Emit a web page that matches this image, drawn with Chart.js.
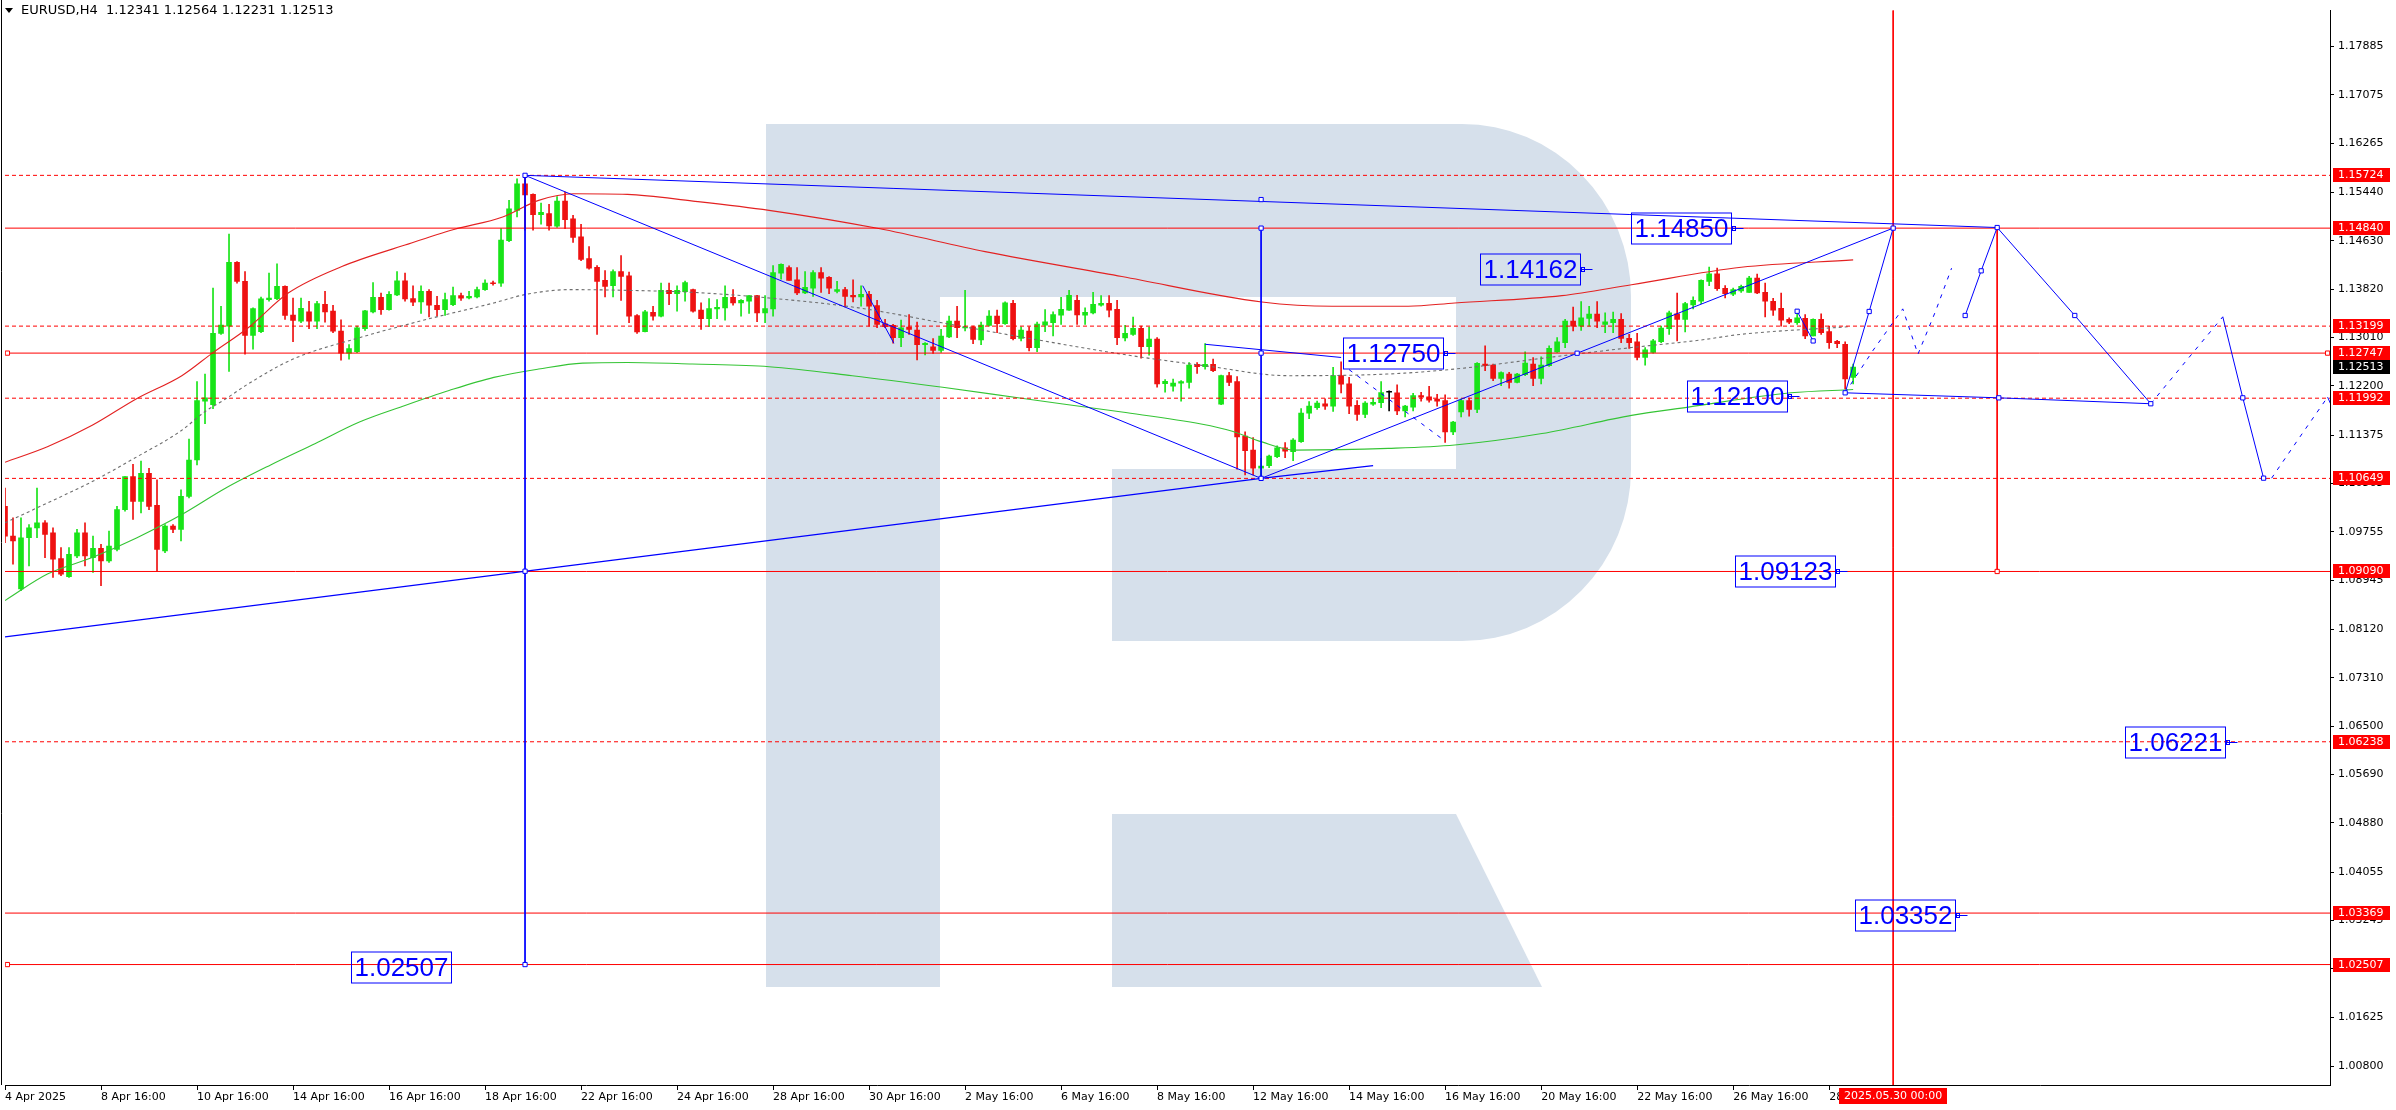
<!DOCTYPE html>
<html>
<head>
<meta charset="utf-8">
<script src="https://cdn.jsdelivr.net/npm/chart.js@4.4.1/dist/chart.umd.min.js"></script>
<style>
  html, body { margin: 0; padding: 0; background: #fff; }
  #wrap { width: 2396px; height: 1110px; }
</style>
</head>
<body>
<div id="wrap"><canvas id="chart" width="2396" height="1110"></canvas></div>
<script>
// EURUSD H4, 4 Apr 2025 16:00 .. 29 May 2025 04:00, one bar per index
const opens = [
  1.10181, 1.09683, 1.08797, 1.09655, 1.09821, 1.09904, 1.09738, 1.09306, 1.09002, 1.09351,
  1.09738, 1.09323, 1.09478, 1.09268, 1.09461, 1.10126, 1.10680, 1.10264, 1.10735, 1.10198,
  1.09434, 1.09849, 1.09794, 1.10348, 1.10957, 1.11942, 1.11882, 1.13078, 1.13199, 1.14268,
  1.13947, 1.13044, 1.13105, 1.13643, 1.13659, 1.13864, 1.13382, 1.13283, 1.13438, 1.13283,
  1.13565, 1.13449, 1.13116, 1.12745, 1.12773, 1.13155, 1.13438, 1.13681, 1.13476, 1.13720,
  1.13958, 1.13659, 1.13604, 1.13781, 1.13548, 1.13476, 1.13560, 1.13709, 1.13670, 1.13687,
  1.13809, 1.13919, 1.13919, 1.14628, 1.15138, 1.15581, 1.15404, 1.15066, 1.15082, 1.14872,
  1.15293, 1.14994, 1.14695, 1.14329, 1.14185, 1.13964, 1.13875, 1.14113, 1.14041, 1.13377,
  1.13105, 1.13432, 1.13366, 1.13798, 1.13742, 1.13776, 1.13809, 1.13466, 1.13322, 1.13488,
  1.13504, 1.13682, 1.13587, 1.13615, 1.13709, 1.13421, 1.13488, 1.14086, 1.14180, 1.13975,
  1.13753, 1.13836, 1.14097, 1.14014, 1.13781, 1.13809, 1.13715, 1.13687, 1.13731, 1.13543,
  1.13238, 1.13211, 1.13006, 1.13183, 1.13133, 1.12890, 1.12851, 1.12790, 1.13017, 1.13283,
  1.13167, 1.13189, 1.12967, 1.13211, 1.13366, 1.13238, 1.13582, 1.12995, 1.13117, 1.12840,
  1.13216, 1.13255, 1.13383, 1.13466, 1.13632, 1.13383, 1.13421, 1.13549, 1.13582, 1.13482,
  1.13000, 1.13061, 1.13161, 1.12856, 1.12984, 1.12236, 1.12192, 1.12242, 1.12258, 1.12557,
  1.12519, 1.12557, 1.11893, 1.12369, 1.12269, 1.11356, 1.11123, 1.10818, 1.10863, 1.11012,
  1.11162, 1.11095, 1.11262, 1.11743, 1.11832, 1.11898, 1.11860, 1.12369, 1.12231, 1.11871,
  1.11721, 1.11893, 1.11915, 1.12092, 1.12081, 1.11777, 1.11843, 1.12036, 1.12014, 1.11976,
  1.11954, 1.11428, 1.11760, 1.11954, 1.11804, 1.12563, 1.12546, 1.12325, 1.12397, 1.12258,
  1.12386, 1.12563, 1.12325, 1.12535, 1.12768, 1.12923, 1.13283, 1.13200, 1.13328, 1.13400,
  1.13228, 1.13256, 1.13311, 1.12995, 1.12934, 1.12674, 1.12757, 1.12940, 1.13156, 1.13405,
  1.13311, 1.13555, 1.13616, 1.13948, 1.14075, 1.13832, 1.13732, 1.13787, 1.13765, 1.14003,
  1.13765, 1.13615, 1.13499, 1.13311, 1.13255, 1.13328, 1.13034, 1.13311, 1.13106, 1.12945,
  1.12895, 1.12341
];
const highs = [
  1.10486, 1.09987, 1.09987, 1.09877, 1.10486, 1.09943, 1.09821, 1.09489, 1.09489, 1.09794,
  1.09904, 1.09683, 1.09544, 1.09766, 1.10181, 1.10680, 1.10885, 1.10940, 1.10818, 1.10624,
  1.09877, 1.09877, 1.10458, 1.11306, 1.12269, 1.12396, 1.13836, 1.13532, 1.14739, 1.14279,
  1.14113, 1.13504, 1.13687, 1.14086, 1.14241, 1.13875, 1.13670, 1.13670, 1.13615, 1.13615,
  1.13781, 1.13548, 1.13305, 1.12889, 1.13199, 1.13465, 1.13930, 1.13753, 1.13776, 1.14113,
  1.14086, 1.13875, 1.13875, 1.13809, 1.13698, 1.13753, 1.13853, 1.13753, 1.13781, 1.13853,
  1.13975, 1.13953, 1.14833, 1.15304, 1.15664, 1.15724, 1.15415, 1.15260, 1.15237, 1.15370,
  1.15442, 1.15055, 1.14905, 1.14529, 1.14213, 1.14130, 1.14141, 1.14379, 1.14102, 1.13393,
  1.13465, 1.13532, 1.13919, 1.13919, 1.13875, 1.13953, 1.13820, 1.13587, 1.13659, 1.13643,
  1.13875, 1.13809, 1.13643, 1.13709, 1.13715, 1.13709, 1.14213, 1.14241, 1.14208, 1.14180,
  1.14113, 1.14130, 1.14180, 1.14030, 1.13947, 1.13848, 1.13975, 1.13875, 1.13781, 1.13632,
  1.13311, 1.13227, 1.13299, 1.13394, 1.13266, 1.12923, 1.12989, 1.13145, 1.13366, 1.13532,
  1.13798, 1.13200, 1.13266, 1.13460, 1.13466, 1.13604, 1.13632, 1.13189, 1.13189, 1.13266,
  1.13477, 1.13438, 1.13682, 1.13798, 1.13715, 1.13504, 1.13764, 1.13709, 1.13709, 1.13632,
  1.13211, 1.13349, 1.13200, 1.13183, 1.13006, 1.12303, 1.12314, 1.12286, 1.12590, 1.12590,
  1.12906, 1.12646, 1.12380, 1.12424, 1.12352, 1.11428, 1.11333, 1.10984, 1.11040, 1.11195,
  1.11250, 1.11317, 1.11816, 1.11937, 1.11943, 1.11981, 1.12508, 1.12602, 1.12341, 1.11954,
  1.11937, 1.11992, 1.12269, 1.12114, 1.12214, 1.11871, 1.12075, 1.12092, 1.12192, 1.12058,
  1.12047, 1.11605, 1.11981, 1.11992, 1.12590, 1.12867, 1.12563, 1.12435, 1.12424, 1.12408,
  1.12768, 1.12673, 1.12685, 1.12867, 1.13006, 1.13311, 1.13516, 1.13610, 1.13532, 1.13610,
  1.13422, 1.13433, 1.13411, 1.13062, 1.13078, 1.12840, 1.12979, 1.13200, 1.13449, 1.13754,
  1.13599, 1.13688, 1.13975, 1.14186, 1.14169, 1.13876, 1.13837, 1.13887, 1.14031, 1.14070,
  1.13920, 1.13665, 1.13754, 1.13339, 1.13477, 1.13394, 1.13322, 1.13405, 1.13200, 1.12962,
  1.12934, 1.12564
];
const lows = [
  1.09572, 1.09212, 1.08769, 1.09185, 1.09655, 1.09323, 1.08991, 1.09019, 1.08991, 1.09323,
  1.09185, 1.09074, 1.08853, 1.09240, 1.09434, 1.10098, 1.09960, 1.10070, 1.10126, 1.09101,
  1.09406, 1.09738, 1.09600, 1.10320, 1.10874, 1.11566, 1.11815, 1.13061, 1.12441, 1.13920,
  1.12729, 1.12812, 1.13089, 1.13615, 1.13643, 1.13310, 1.12939, 1.13255, 1.13155, 1.13155,
  1.13266, 1.13089, 1.12629, 1.12646, 1.12756, 1.13127, 1.13421, 1.13393, 1.13465, 1.13709,
  1.13615, 1.13543, 1.13410, 1.13355, 1.13366, 1.13377, 1.13543, 1.13631, 1.13654, 1.13670,
  1.13798, 1.13886, 1.13864, 1.14612, 1.15027, 1.14806, 1.14806, 1.14905, 1.14806, 1.14850,
  1.14833, 1.14601, 1.14296, 1.14152, 1.13061, 1.13687, 1.13687, 1.13631, 1.13255, 1.13078,
  1.13100, 1.13299, 1.13355, 1.13560, 1.13449, 1.13615, 1.13432, 1.13145, 1.13189, 1.13322,
  1.13299, 1.13549, 1.13366, 1.13410, 1.13272, 1.13255, 1.13366, 1.13986, 1.13964, 1.13726,
  1.13742, 1.13698, 1.13764, 1.13742, 1.13753, 1.13521, 1.13604, 1.13532, 1.13200, 1.13172,
  1.13172, 1.12912, 1.12856, 1.13061, 1.12635, 1.12718, 1.12740, 1.12757, 1.13006, 1.13006,
  1.13117, 1.12906, 1.12890, 1.13200, 1.13089, 1.13227, 1.12967, 1.12951, 1.12784, 1.12773,
  1.13106, 1.13034, 1.13227, 1.13460, 1.13227, 1.13227, 1.13405, 1.13532, 1.13355, 1.12890,
  1.12951, 1.13045, 1.12662, 1.12712, 1.12175, 1.12092, 1.12109, 1.11943, 1.12159, 1.12408,
  1.12480, 1.12435, 1.11882, 1.12203, 1.10802, 1.10708, 1.10708, 1.10652, 1.10829, 1.10995,
  1.10995, 1.10946, 1.11250, 1.11649, 1.11804, 1.11804, 1.11771, 1.12081, 1.11732, 1.11621,
  1.11666, 1.11871, 1.11832, 1.11777, 1.11716, 1.11677, 1.11777, 1.11943, 1.11926, 1.11860,
  1.11250, 1.11383, 1.11677, 1.11693, 1.11749, 1.12452, 1.12286, 1.12203, 1.12159, 1.12247,
  1.12369, 1.12203, 1.12231, 1.12524, 1.12757, 1.12840, 1.13117, 1.13128, 1.13200, 1.13172,
  1.13089, 1.13089, 1.12923, 1.12824, 1.12635, 1.12547, 1.12746, 1.12923, 1.13062, 1.12951,
  1.13101, 1.13488, 1.13577, 1.13876, 1.13798, 1.13671, 1.13710, 1.13765, 1.13765, 1.13743,
  1.13355, 1.13377, 1.13200, 1.13239, 1.13228, 1.12990, 1.13034, 1.13062, 1.12824, 1.12840,
  1.12148, 1.12231
];
const closes = [
  1.09683, 1.09600, 1.09655, 1.09821, 1.09904, 1.09711, 1.09295, 1.09046, 1.09378, 1.09738,
  1.09351, 1.09478, 1.09268, 1.09517, 1.10126, 1.10680, 1.10264, 1.10735, 1.10181, 1.09461,
  1.09849, 1.09794, 1.10348, 1.10957, 1.11954, 1.11998, 1.13078, 1.13216, 1.14268, 1.13947,
  1.13044, 1.13493, 1.13654, 1.13670, 1.13864, 1.13377, 1.13294, 1.13499, 1.13283, 1.13576,
  1.13438, 1.13116, 1.12745, 1.12823, 1.13172, 1.13454, 1.13681, 1.13476, 1.13731, 1.13958,
  1.13654, 1.13598, 1.13781, 1.13548, 1.13476, 1.13643, 1.13709, 1.13665, 1.13698, 1.13809,
  1.13919, 1.13908, 1.14639, 1.15165, 1.15581, 1.15398, 1.15066, 1.15105, 1.14878, 1.15293,
  1.14983, 1.14684, 1.14318, 1.14169, 1.13947, 1.13864, 1.14113, 1.14030, 1.13366, 1.13100,
  1.13438, 1.13366, 1.13798, 1.13742, 1.13798, 1.13930, 1.13449, 1.13322, 1.13493, 1.13515,
  1.13682, 1.13587, 1.13632, 1.13709, 1.13421, 1.13493, 1.14097, 1.14235, 1.13964, 1.13753,
  1.13848, 1.14097, 1.14003, 1.13836, 1.13809, 1.13698, 1.13687, 1.13731, 1.13532, 1.13227,
  1.13189, 1.13006, 1.13172, 1.13145, 1.12890, 1.12912, 1.12790, 1.13034, 1.13283, 1.13172,
  1.13189, 1.12978, 1.13216, 1.13366, 1.13238, 1.13587, 1.12989, 1.13133, 1.12840, 1.13233,
  1.13272, 1.13394, 1.13482, 1.13715, 1.13388, 1.13432, 1.13565, 1.13582, 1.13466, 1.13006,
  1.13078, 1.13161, 1.12856, 1.12984, 1.12231, 1.12275, 1.12247, 1.12269, 1.12546, 1.12519,
  1.12557, 1.12452, 1.12369, 1.12258, 1.11344, 1.11112, 1.10818, 1.10857, 1.11023, 1.11162,
  1.11106, 1.11289, 1.11743, 1.11860, 1.11909, 1.11860, 1.12369, 1.12225, 1.11860, 1.11721,
  1.11909, 1.11921, 1.12086, 1.12092, 1.11777, 1.11860, 1.12036, 1.12009, 1.11959, 1.11943,
  1.11428, 1.11594, 1.11954, 1.11804, 1.12574, 1.12535, 1.12325, 1.12419, 1.12258, 1.12397,
  1.12580, 1.12325, 1.12546, 1.12829, 1.12934, 1.13283, 1.13200, 1.13339, 1.13400, 1.13283,
  1.13272, 1.13311, 1.12995, 1.12923, 1.12674, 1.12801, 1.12951, 1.13167, 1.13422, 1.13311,
  1.13577, 1.13632, 1.13964, 1.14075, 1.13826, 1.13743, 1.13809, 1.13865, 1.14003, 1.13754,
  1.13615, 1.13466, 1.13300, 1.13266, 1.13339, 1.13034, 1.13311, 1.13089, 1.12923, 1.12907,
  1.12314, 1.12513
];

// moving averages, read as [bar, price]
const maSlow = [[0,1.10919],[5.3,1.11178],[10.9,1.11538],[16.5,1.11987],[22.1,1.12369],[26,1.12756],
  [30.4,1.13172],[35.4,1.13753],[42.1,1.14197],[50,1.14557],[56.1,1.14817],[62.2,1.15027],[66.7,1.15305],
  [71.1,1.15415],[77.8,1.15405],[86,1.15293],[95.5,1.15138],[109.2,1.14833],[122.5,1.14446],[139.6,1.14030],
  [157.1,1.13604],[165.9,1.13532],[175.4,1.13532],[181.2,1.13587],[194.6,1.13710],[203.3,1.13893],
  [217,1.14185],[231,1.14308]];
const maMid = [[0,1.08603],[5.3,1.09047],[10.9,1.09324],[16.5,1.09656],[22.1,1.10043],[27.6,1.10487],
  [33.2,1.10874],[38.8,1.11234],[44.3,1.11593],[50,1.11870],[55.5,1.12120],[61.1,1.12341],[66.7,1.12480],
  [72.2,1.12580],[77.8,1.12590],[85.9,1.12564],[95.5,1.12519],[105.9,1.12369],[117.2,1.12175],[127.5,1.11982],
  [139.6,1.11760],[149.5,1.11560],[153.4,1.11440],[157.1,1.11260],[161.2,1.11123],[172.9,1.11151],
  [181.2,1.11207],[192.1,1.11400],[203.3,1.11704],[210.4,1.11843],[223.2,1.12082],[231,1.12137]];
const maFast = [[0,1.09905],[5.3,1.10237],[10.9,1.10596],[16.5,1.11011],[22.1,1.11455],[24.9,1.11759],
  [27.6,1.11982],[30.4,1.12231],[36,1.12647],[44.3,1.13005],[52.7,1.13311],[61.1,1.13587],[65,1.13727],
  [70.6,1.13810],[77.8,1.13798],[85.9,1.13765],[95.5,1.13670],[106.7,1.13504],[117.1,1.13255],[127.5,1.13005],
  [140.9,1.12702],[150,1.12535],[160.4,1.12369],[172.9,1.12397],[181.2,1.12480],[194.6,1.12702],
  [203.3,1.12840],[212,1.12967],[217,1.13062],[230.4,1.13188]];

// horizontal levels
const levelsSolid = [1.14840, 1.12747, 1.09090, 1.03369, 1.02507];
const levelsDotted = [1.15724, 1.13199, 1.11992, 1.10649, 1.06238];
const lastPrice = 1.12513;

// blue analysis lines, [bar, price]
const topLine = [[65,1.15724],[249,1.14850]];
const fallLine = [[65,1.15724],[157,1.10649]];
const baseLine = [[0,1.07995],[157,1.10649],[171,1.10863]];
const riseLine = [[157,1.10649],[236,1.14840]];
const peakDrop = [[65,1.15724],[65,1.02507]];
const lowDrop = [[157,1.14840],[157,1.10649]];
const sideLine = [[150,1.12895],[167,1.12674]];
const floorLine = [[230,1.12082],[249.2,1.11998],[268.2,1.11899]];
const oldLegA = [[107.2,1.13876],[111.1,1.12912]];
const oldLegB = [[224,1.13448],[226,1.12951]];
const waveUp = [[230,1.12082],[233,1.13444],[236,1.14840]];
const waveTop = [[245,1.13377],[247,1.14125],[249,1.14850],[258.7,1.13377],[268.2,1.11899]];
const waveDown = [[277.2,1.13355],[279.7,1.11998],[282.3,1.10653]];
const waveTail = [[290.3,1.12010],[291.5,1.11650]];
const dashOld = [[168,1.12470],[180,1.11273]];
const dashNear = [[230,1.12082],[233.5,1.12796],[237.2,1.13488],[239.1,1.12729],[241.3,1.13449],[243.3,1.14169]];
const dashMid = [[268.2,1.11899],[272.8,1.12646],[277.2,1.13355]];
const dashEnd = [[283.3,1.10653],[286.7,1.11317],[290.3,1.12010]];
const blueAnchors = [[65,1.15724],[65,1.09094],[65,1.02507],[157,1.15318],[157,1.14840],[157,1.12747],
  [157,1.10649],[196.5,1.12745],[230,1.12082],[233,1.13444],[236,1.14840],[245,1.13377],[247,1.14125],
  [249,1.14850],[249.2,1.11998],[258.7,1.13377],[268.2,1.11899],[279.7,1.11998],[282.3,1.10653],
  [224,1.13448],[226,1.12951]];

// red time lines
const nowLine = [[236,1.19],[236,1.00]];
const targetLine = [[249,1.14840],[249,1.09090]];
const redAnchors = [[0.3,1.12747],[0.3,1.02507],[290.3,1.12747],[249,1.09090]];

// text labels on the chart
const boxText = ['1.14850','1.14162','1.12750','1.12100','1.09123','1.06221','1.03352','1.02507'];
const boxBar = [203.2, 184.3, 167.2, 210.2, 216.2, 265, 231.2, 43.2];
const boxPrice = [1.14837, 1.14159, 1.12743, 1.12037, 1.09096, 1.06230, 1.03336, 1.02467];
const boxTail = [true, true, true, true, true, true, true, false];

// axes
const xTickBars = [0,12,24,36,48,60,72,84,96,108,120,132,144,156,168,180,192,204,216,228];
const xTickText = ['4 Apr 2025','8 Apr 16:00','10 Apr 16:00','14 Apr 16:00','16 Apr 16:00','18 Apr 16:00',
  '22 Apr 16:00','24 Apr 16:00','28 Apr 16:00','30 Apr 16:00','2 May 16:00','6 May 16:00','8 May 16:00',
  '12 May 16:00','14 May 16:00','16 May 16:00','20 May 16:00','22 May 16:00','26 May 16:00','28 May 16:00'];
const yTicks = [1.17885,1.17075,1.16265,1.15440,1.14630,1.13820,1.13010,1.12200,1.11375,1.10565,1.09755,
  1.08945,1.08120,1.07310,1.06500,1.05690,1.04880,1.04055,1.03245,1.02435,1.01625,1.00800];
const nowBar = 236;
const nowText = '2025.05.30 00:00';
const header = 'EURUSD,H4  1.12341 1.12564 1.12231 1.12513';

const X_MIN = 0, X_MAX = 290.6, Y_MIN = 1.00490, Y_MAX = 1.18483;
const UP = '#18e418', DOWN = '#ee1111', BLUE = '#0000ff', RED = '#ff0000';
const FONT = '"DejaVu Sans", sans-serif';

const xy = (arr) => arr.map(([x, y]) => ({ x, y }));
const candleColor = (ctx) => {
  const i = ctx.dataIndex;
  if (closes[i] > opens[i]) return UP;
  if (closes[i] < opens[i]) return DOWN;
  return '#000';
};

const lineSet = (pts, color, opts) => Object.assign({
  type: 'line', data: xy(pts), borderColor: color, borderWidth: 1,
  pointRadius: 0, fill: false, tension: 0, order: 1
}, opts || {});

const datasets = [
  { type: 'bar', data: opens.map((o, i) => ({ x: i, y: [lows[i], highs[i]] })),
    backgroundColor: candleColor, barThickness: 1, grouped: false, order: 20 },
  { type: 'bar', data: opens.map((o, i) => ({ x: i, y: [o, closes[i]] })),
    backgroundColor: candleColor, barThickness: 5, minBarLength: 1, grouped: false, order: 19 },
  lineSet(maSlow, '#e32222', { cubicInterpolationMode: 'monotone', borderWidth: 1.1, order: 5 }),
  lineSet(maMid, '#35c435', { cubicInterpolationMode: 'monotone', borderWidth: 1.1, order: 5 }),
  lineSet(maFast, '#6e6e6e', { cubicInterpolationMode: 'monotone', borderWidth: 1.1, borderDash: [3, 3], order: 5 }),
];
levelsSolid.forEach(v => datasets.push(lineSet([[X_MIN, v], [X_MAX, v]], RED, { order: 4 })));
levelsDotted.forEach(v => datasets.push(lineSet([[X_MIN, v], [X_MAX, v]], RED, { borderDash: [4, 3], order: 4 })));
datasets.push(lineSet(nowLine, RED, { order: 4 }));
datasets.push(lineSet(targetLine, RED, { order: 4 }));

[topLine, fallLine, riseLine, peakDrop, lowDrop, sideLine, floorLine, oldLegA, oldLegB,
 waveUp, waveTop, waveDown, waveTail].forEach(p => datasets.push(lineSet(p, BLUE)));
datasets.push(lineSet(baseLine, BLUE, { borderWidth: 1.4 }));
[dashOld, dashNear, dashMid, dashEnd].forEach(p => datasets.push(lineSet(p, BLUE, { borderDash: [4, 6] })));

datasets.push({ type: 'line', data: xy(blueAnchors), showLine: false, pointStyle: 'rect', pointRadius: 3,
  pointBackgroundColor: '#fff', pointBorderColor: BLUE, pointBorderWidth: 1, order: 0 });
datasets.push({ type: 'line', data: xy(redAnchors), showLine: false, pointStyle: 'rect', pointRadius: 3,
  pointBackgroundColor: '#fff', pointBorderColor: RED, pointBorderWidth: 1, order: 0 });

function drawLogo(ctx) {
  ctx.fillStyle = '#d6e0eb';
  ctx.beginPath();
  ctx.moveTo(766, 124);
  ctx.lineTo(1462, 124);
  ctx.ellipse(1462, 296, 169, 172, 0, -Math.PI / 2, 0);
  ctx.lineTo(1631, 469);
  ctx.ellipse(1462, 469, 169, 172, 0, 0, Math.PI / 2);
  ctx.lineTo(766, 641);
  ctx.closePath();
  ctx.moveTo(940, 297);
  ctx.lineTo(1456, 297);
  ctx.lineTo(1456, 469);
  ctx.lineTo(1112, 469);
  ctx.lineTo(1112, 641);
  ctx.lineTo(940, 641);
  ctx.closePath();
  ctx.fill('evenodd');
  ctx.fillRect(766, 641, 174, 346);
  ctx.beginPath();
  ctx.moveTo(1112, 814);
  ctx.lineTo(1456, 814);
  ctx.lineTo(1542, 987);
  ctx.lineTo(1112, 987);
  ctx.closePath();
  ctx.fill();
}

const decor = {
  id: 'decor',
  beforeDraw(chart) {
    const ctx = chart.ctx;
    ctx.save();
    ctx.fillStyle = '#fff';
    ctx.fillRect(0, 0, chart.width, chart.height);
    drawLogo(ctx);
    ctx.restore();
  },
  afterDatasetsDraw(chart) {
    const { ctx, scales: { x, y } } = chart;
    ctx.save();
    ctx.font = '26px "Liberation Sans", sans-serif';
    ctx.textBaseline = 'middle';
    boxText.forEach((t, k) => {
      const px = Math.round(x.getPixelForValue(boxBar[k])) + 0.5;
      const py = Math.round(y.getPixelForValue(boxPrice[k])) + 0.5;
      const w = Math.round(ctx.measureText(t).width) + 6, h = 31;
      ctx.strokeStyle = BLUE;
      ctx.lineWidth = 1;
      ctx.strokeRect(px, py - h / 2, w, h);
      ctx.fillStyle = BLUE;
      ctx.fillText(t, px + 3, py + 1);
      if (boxTail[k]) {
        ctx.beginPath();
        ctx.moveTo(px + w, py);
        ctx.lineTo(px + w + 12, py);
        ctx.stroke();
        ctx.strokeRect(px + w + 1, py - 2, 3, 4);
      }
    });
    ctx.restore();
  },
  afterDraw(chart) {
    const { ctx, chartArea: a, scales: { x, y } } = chart;
    ctx.save();
    // left frame
    ctx.strokeStyle = '#000';
    ctx.lineWidth = 1;
    ctx.beginPath();
    ctx.moveTo(1.5, 0);
    ctx.lineTo(1.5, a.bottom);
    ctx.stroke();
    // price tags on the right axis
    ctx.font = '11px ' + FONT;
    ctx.textBaseline = 'middle';
    const tag = (v, bg) => {
      const py = Math.round(y.getPixelForValue(v));
      ctx.fillStyle = bg;
      ctx.fillRect(a.right + 3, py - 7, 57, 14);
      ctx.fillStyle = '#fff';
      ctx.fillText(v.toFixed(5), a.right + 8, py + 0.5);
    };
    levelsSolid.concat(levelsDotted).forEach(v => tag(v, RED));
    tag(lastPrice, '#000');
    // time tag on the bottom axis
    const tx = x.getPixelForValue(nowBar);
    ctx.fillStyle = RED;
    ctx.fillRect(Math.round(tx - 54), a.bottom + 3, 108, 16);
    ctx.fillStyle = '#fff';
    ctx.textAlign = 'center';
    ctx.fillText(nowText, tx, a.bottom + 11.5);
    // header
    ctx.textAlign = 'left';
    ctx.fillStyle = '#000';
    ctx.beginPath();
    ctx.moveTo(5, 8);
    ctx.lineTo(13, 8);
    ctx.lineTo(9, 13);
    ctx.closePath();
    ctx.fill();
    ctx.font = '13px ' + FONT;
    ctx.fillText(header, 21, 11);
    ctx.restore();
  }
};

new Chart(document.getElementById('chart'), {
  type: 'bar',
  data: { datasets },
  plugins: [decor],
  options: {
    responsive: false,
    animation: false,
    devicePixelRatio: 1,
    layout: { padding: { left: 3, top: 2, right: 0, bottom: 0 } },
    plugins: { legend: { display: false }, tooltip: { enabled: false } },
    elements: { point: { radius: 0 } },
    scales: {
      x: {
        type: 'linear', min: X_MIN, max: X_MAX, offset: false,
        afterBuildTicks: (s) => { s.ticks = xTickBars.map(v => ({ value: v })); },
        afterFit: (s) => { s.height = 25; },
        ticks: {
          callback: (v, i) => xTickText[i], align: 'start', maxRotation: 0, autoSkip: false,
          color: '#000', font: { family: FONT, size: 11 }, padding: 1
        },
        grid: { drawOnChartArea: false, drawTicks: true, tickLength: 5, color: '#000', offset: false },
        border: { display: true, color: '#000', width: 1 }
      },
      y: {
        type: 'linear', position: 'right', min: Y_MIN, max: Y_MAX, beginAtZero: false,
        afterBuildTicks: (s) => { s.ticks = yTicks.map(v => ({ value: v })); },
        afterFit: (s) => { s.width = 66; },
        ticks: {
          callback: (v) => v.toFixed(5), autoSkip: false, color: '#000',
          font: { family: FONT, size: 11 }, padding: 4
        },
        grid: { drawOnChartArea: false, drawTicks: true, tickLength: 4, color: '#000' },
        border: { display: true, color: '#000', width: 1 }
      }
    }
  }
});
</script>
</body>
</html>
